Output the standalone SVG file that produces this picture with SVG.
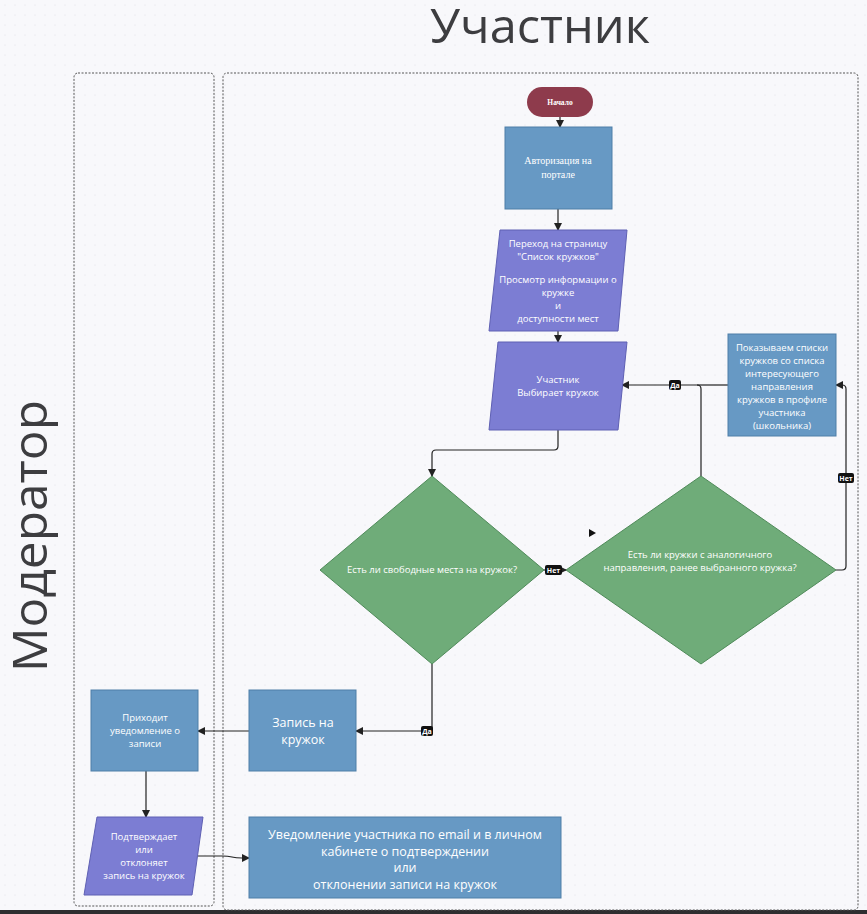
<svg xmlns="http://www.w3.org/2000/svg" width="867" height="914" viewBox="0 0 867 914">
<defs>
<pattern id="dots" width="10" height="10" patternUnits="userSpaceOnUse"><circle cx="5" cy="5" r="0.6" fill="#dcdce4"/></pattern>
<marker id="arr" markerWidth="8" markerHeight="8" refX="7" refY="4" orient="auto" markerUnits="userSpaceOnUse"><path d="M0,0 L8,4 L0,8 z" fill="#222"/></marker>
<style>
.lane{fill:none;stroke:#555;stroke-width:1;stroke-dasharray:2 1.5}
.blue{fill:#6799c4;stroke:#4e7ea8;stroke-width:1}
.purple{fill:#7c7dd3;stroke:#5f60b3;stroke-width:1}
.green{fill:#6fac79;stroke:#4f8a59;stroke-width:1}
.start{fill:#8e3b4c}
.t{font-family:"Open Sans","Noto Sans",sans-serif;fill:#fff;text-anchor:middle;font-size:9.5px}
.ts{font-family:"Liberation Serif",serif;fill:#fff;text-anchor:middle}
.big{font-size:12.5px}
.conn path{fill:none;stroke:#222;stroke-width:1.2}
.badge rect{fill:#111}
.badge text{font-family:"Open Sans","Noto Sans",sans-serif;font-size:7px;font-weight:bold;fill:#fff;text-anchor:middle}
.hdr{font-family:"Open Sans","Noto Sans",sans-serif;fill:#3d3d40;font-size:48px}
</style>
</defs>
<rect width="867" height="914" fill="#f8f8fb"/>
<rect width="867" height="914" fill="url(#dots)"/>
<rect x="0" y="910" width="867" height="4" fill="#2e2e30"/>

<text class="hdr" x="540" y="43" text-anchor="middle" textLength="220" lengthAdjust="spacingAndGlyphs">Участник</text>
<text class="hdr" transform="translate(47,536) rotate(-90)" text-anchor="middle" textLength="272" lengthAdjust="spacingAndGlyphs">Модератор</text>

<g id="lane-moderator"><rect class="lane" x="74" y="73" width="140" height="833" rx="4"/></g>
<g id="lane-participant"><rect class="lane" x="223" y="73" width="635" height="837" rx="4"/></g>

<g class="conn" id="connectors">
<path d="M560,117 L560,127" marker-end="url(#arr)"/>
<path d="M558,209 L558,230" marker-end="url(#arr)"/>
<path d="M558,331 L558,342" marker-end="url(#arr)"/>
<path d="M558,430 L558,446 Q558,450 554,450 L436,450 Q432,450 432,454 L432,476" marker-end="url(#arr)"/>
<path d="M544,570 L566,570" marker-end="url(#arr)"/>
<path d="M701,476 L701,389 Q701,385 697,385 L622,385" marker-end="url(#arr)"/>
<path d="M728,385 L697,385"/>
<path d="M836,570 L842,570 Q846,570 846,566 L846,389 Q846,385 842,385 L836,385" marker-end="url(#arr)"/>
<path d="M432,664 L432,731 L356,731" marker-end="url(#arr)"/>
<path d="M249,731 L198,731" marker-end="url(#arr)"/>
<path d="M146,771 L146,817" marker-end="url(#arr)"/>
<path d="M198,856 L222,856 Q228,856 232,857 Q236,858 242,858 L249,858" marker-end="url(#arr)"/>
</g>
<g id="badges">
<g class="badge"><rect x="545" y="565" width="17" height="10" rx="2"/><text x="553.5" y="572.5">Нет</text></g>
<g class="badge"><rect x="669" y="380" width="12" height="10" rx="2"/><text x="675" y="387.5">Да</text></g>
<g class="badge"><rect x="838" y="473" width="16" height="10" rx="2"/><text x="846" y="480.5">Нет</text></g>
<g class="badge"><rect x="421" y="726" width="12" height="10" rx="2"/><text x="427" y="733.5">Да</text></g>
</g>
<path d="M553,191 L560,195 L553,199 z" fill="#111"/>
<path d="M589,529 L596,533 L589,537 z" fill="#111"/>

<g id="start"><rect class="start" x="527" y="87" width="66" height="30" rx="15"/><text class="ts" x="560" y="105" font-size="7.5" font-weight="bold">Начало</text></g>

<g id="auth"><rect class="blue" x="505" y="127" width="107" height="82"/>
<text class="ts" x="558" y="164" font-size="10">Авторизация на</text>
<text class="ts" x="558" y="178" font-size="10">портале</text></g>

<g id="catalog"><path class="purple" d="M500,230 L627,230 L618,331 L489,331 z"/>
<text class="t"><tspan x="558" y="247">Переход на страницу</tspan><tspan x="558" y="260">"Список кружков"</tspan><tspan x="558" y="283">Просмотр информации о</tspan><tspan x="558" y="296">кружке</tspan><tspan x="558" y="309">и</tspan><tspan x="558" y="322">доступности мест</tspan></text></g>

<g id="choose"><path class="purple" d="M498,342 L627,342 L618,430 L489,430 z"/>
<text class="t"><tspan x="558" y="383">Участник</tspan><tspan x="558" y="396">Выбирает кружок</tspan></text></g>

<g id="show-lists"><rect class="blue" x="728" y="334" width="108" height="102"/>
<text class="t"><tspan x="782" y="351">Показываем списки</tspan><tspan x="782" y="364">кружков со списка</tspan><tspan x="782" y="377">интересующего</tspan><tspan x="782" y="390">направления</tspan><tspan x="782" y="403">кружков в профиле</tspan><tspan x="782" y="416">участника</tspan><tspan x="782" y="429">(школьника)</tspan></text></g>

<g id="free-places"><path class="green" d="M432,476 L544,570 L432,664 L320,570 z"/>
<text class="t" x="432" y="573">Есть ли свободные места на кружок?</text></g>

<g id="similar"><path class="green" d="M701,476 L836,570 L701,664 L566,570 z"/>
<text class="t"><tspan x="700" y="558">Есть ли кружки с аналогичного</tspan><tspan x="700" y="571">направления, ранее выбранного кружка?</tspan></text></g>

<g id="enroll"><rect class="blue" x="249" y="690" width="107" height="81"/>
<text class="t big"><tspan x="303" y="727">Запись на</tspan><tspan x="303" y="744">кружок</tspan></text></g>

<g id="notify-mod"><rect class="blue" x="91" y="690" width="107" height="81"/>
<text class="t"><tspan x="145" y="721">Приходит</tspan><tspan x="145" y="734">уведомление о</tspan><tspan x="145" y="747">записи</tspan></text></g>

<g id="decide"><path class="purple" d="M97,817 L203,817 L192,895 L84,895 z"/>
<text class="t"><tspan x="144" y="840">Подтверждает</tspan><tspan x="144" y="853">или</tspan><tspan x="144" y="866">отклоняет</tspan><tspan x="144" y="879">запись на кружок</tspan></text></g>

<g id="notify-user"><rect class="blue" x="249" y="817" width="312" height="81"/>
<text class="t big"><tspan x="405" y="839">Уведомление участника по email и в личном</tspan><tspan x="405" y="856">кабинете о подтверждении</tspan><tspan x="405" y="872">или</tspan><tspan x="405" y="889">отклонении записи на кружок</tspan></text></g>
</svg>
